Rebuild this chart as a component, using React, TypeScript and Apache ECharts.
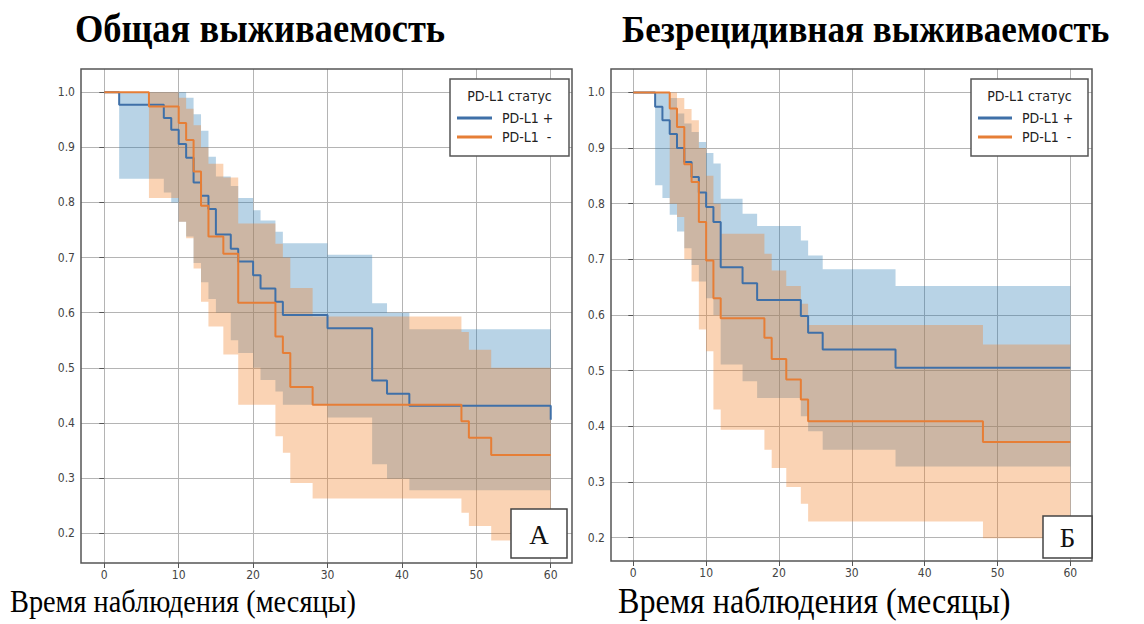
import React, { useEffect, useRef } from "react";
import * as echarts from "echarts";

// ---------- axis ticks ----------
const X_TICKS = [0, 10, 20, 30, 40, 50, 60];
const Y_TICKS = [0.2, 0.3, 0.4, 0.5, 0.6, 0.7, 0.8, 0.9, 1.0];
const END_TIME = 60;

// ---------- texts ----------
const TITLE_OS = "Общая выживаемость";
const TITLE_RFS = "Безрецидивная выживаемость";
const X_LABEL = "Время наблюдения (месяцы)";
const LEGEND_TITLE = "PD-L1 статус";
const NAME_POS = "PD-L1 +";
const NAME_NEG = "PD-L1  -";

// ---------- Overall survival (left) ----------
const osPosTimes = [0, 2, 8, 9, 10, 11, 12, 13, 14, 15, 17, 18, 20, 21, 23, 24, 30, 36, 38, 41, 60];
const osPosSurv = [1.0, 0.977, 0.953, 0.932, 0.906, 0.881, 0.836, 0.812, 0.788, 0.742, 0.716, 0.693, 0.668, 0.644, 0.62, 0.596, 0.572, 0.477, 0.453, 0.431, 0.406];
const osPosBandX = [2, 8, 9, 10, 11, 12, 13, 14, 15, 17, 18, 20, 21, 23, 24, 30, 36, 38, 41];
const osPosBandUp = [1.0, 1.0, 1.0, 1.0, 0.99, 0.96, 0.93, 0.883, 0.847, 0.83, 0.808, 0.786, 0.767, 0.747, 0.726, 0.705, 0.617, 0.6, 0.57];
const osPosBandLo = [0.843, 0.818, 0.8, 0.765, 0.738, 0.69, 0.655, 0.625, 0.6, 0.55, 0.527, 0.5, 0.478, 0.457, 0.433, 0.41, 0.325, 0.299, 0.278];

const osNegTimes = [0, 6, 10, 11, 12, 13, 14, 16, 18, 23, 24, 25, 28, 48, 49, 52];
const osNegSurv = [1.0, 0.974, 0.944, 0.913, 0.856, 0.794, 0.738, 0.707, 0.618, 0.557, 0.527, 0.465, 0.433, 0.403, 0.373, 0.342];
const osNegBandX = [6, 10, 11, 12, 13, 14, 16, 18, 23, 24, 25, 28, 48, 49, 52];
const osNegBandUp = [1.0, 0.99, 0.97, 0.94, 0.9, 0.87, 0.845, 0.762, 0.725, 0.7, 0.645, 0.593, 0.565, 0.533, 0.5];
const osNegBandLo = [0.808, 0.765, 0.735, 0.68, 0.62, 0.575, 0.524, 0.433, 0.376, 0.346, 0.291, 0.263, 0.237, 0.213, 0.187];

// ---------- Recurrence-free survival (right) ----------
const rfsPosTimes = [0, 3, 4, 5, 6, 7, 8, 9, 10, 11, 12, 15, 17, 23, 24, 26, 36];
const rfsPosSurv = [1.0, 0.974, 0.95, 0.925, 0.9, 0.875, 0.848, 0.82, 0.794, 0.767, 0.686, 0.657, 0.627, 0.598, 0.568, 0.538, 0.505];
const rfsPosBandX = [3, 4, 5, 6, 7, 8, 9, 10, 11, 12, 15, 17, 23, 24, 26, 36];
const rfsPosBandUp = [1.0, 1.0, 0.99, 0.962, 0.944, 0.929, 0.911, 0.891, 0.872, 0.809, 0.782, 0.76, 0.734, 0.707, 0.682, 0.652];
const rfsPosBandLo = [0.833, 0.81, 0.78, 0.75, 0.72, 0.69, 0.66, 0.63, 0.6, 0.511, 0.481, 0.451, 0.418, 0.391, 0.358, 0.328];

const rfsNegTimes = [0, 5, 6, 7, 8, 9, 10, 11, 12, 18, 19, 21, 23, 24, 48];
const rfsNegSurv = [1.0, 0.971, 0.938, 0.871, 0.839, 0.767, 0.698, 0.63, 0.594, 0.559, 0.521, 0.484, 0.448, 0.409, 0.372];
const rfsNegBandX = [5, 6, 7, 8, 9, 10, 11, 12, 18, 19, 21, 23, 24, 48];
const rfsNegBandUp = [1.0, 0.99, 0.97, 0.95, 0.9, 0.85, 0.8, 0.746, 0.71, 0.68, 0.652, 0.62, 0.582, 0.547];
const rfsNegBandLo = [0.8, 0.776, 0.7, 0.66, 0.574, 0.535, 0.43, 0.394, 0.358, 0.325, 0.291, 0.261, 0.229, 0.199];

// ---------- styles ----------
const BLUE = "#3f70a8";
const ORANGE = "#e67e36";
const BLUE_FILL = "rgba(40,120,180,0.33)";
const ORANGE_FILL = "rgba(240,128,40,0.35)";
const FRAME = "#555555";
const TICK_FONT = "'Liberation Sans Narrow', 'DejaVu Sans Condensed', 'Roboto Condensed', sans-serif";
const SERIF = "'Liberation Serif', 'Times New Roman', serif";

function stepLine(times: number[], surv: number[], end: number) {
  const pts: number[][] = [[times[0], surv[0]]];
  for (let i = 1; i < times.length; i++) {
    pts.push([times[i], surv[i - 1]]);
    pts.push([times[i], surv[i]]);
  }
  if (times[times.length - 1] < end) pts.push([end, surv[surv.length - 1]]);
  return pts;
}

function bandSeries(idx: number, xs: number[], lo: number[], up: number[], fill: string) {
  return {
    type: "custom",
    xAxisIndex: idx,
    yAxisIndex: idx,
    silent: true,
    z: 1,
    data: [[xs[0], lo[0], up[0]]],
    encode: { x: 0, y: [1, 2] },
    renderItem: (params: any, api: any) => {
      if (params.dataIndex !== 0) return null;
      const pts: number[][] = [];
      for (let i = 0; i < xs.length; i++) {
        const x1 = i < xs.length - 1 ? xs[i + 1] : END_TIME;
        pts.push(api.coord([xs[i], up[i]]), api.coord([x1, up[i]]));
      }
      for (let i = xs.length - 1; i >= 0; i--) {
        const x1 = i < xs.length - 1 ? xs[i + 1] : END_TIME;
        pts.push(api.coord([x1, lo[i]]), api.coord([xs[i], lo[i]]));
      }
      return { type: "polygon", shape: { points: pts }, style: { fill, stroke: null } };
    },
  };
}

function lineSeries(idx: number, name: string, times: number[], surv: number[], color: string) {
  return {
    type: "line",
    name,
    xAxisIndex: idx,
    yAxisIndex: idx,
    data: stepLine(times, surv, END_TIME),
    showSymbol: false,
    symbol: "none",
    lineStyle: { color, width: 2 },
    z: 5,
  };
}

function xAxis(idx: number, min: number, max: number) {
  return {
    type: "value",
    gridIndex: idx,
    min,
    max,
    axisLine: { show: false },
    axisTick: { show: true, customValues: X_TICKS, length: 5, lineStyle: { color: FRAME, width: 1 } },
    axisLabel: {
      customValues: X_TICKS,
      margin: 6,
      fontSize: 12,
      color: "#444",
      fontFamily: TICK_FONT,
    },
    splitLine: { show: true, lineStyle: { color: "#b4b4b4", width: 1 } },
  };
}

function yAxis(idx: number, min: number, max: number) {
  return {
    type: "value",
    gridIndex: idx,
    min,
    max,
    axisLine: { show: false },
    axisTick: { show: true, customValues: Y_TICKS, length: 5, lineStyle: { color: FRAME, width: 1 } },
    axisLabel: {
      customValues: Y_TICKS,
      margin: 6,
      fontSize: 12,
      color: "#444",
      fontFamily: TICK_FONT,
      formatter: (v: number) => v.toFixed(1),
    },
    splitLine: { show: true, lineStyle: { color: "#b4b4b4", width: 1 } },
  };
}

function legendGraphics(x: number, y: number, w: number, h: number, lineX0: number, lineX1: number, labelX: number) {
  const cx = x + w / 2;
  return [
    { type: "rect", shape: { x, y, width: w, height: h }, style: { fill: "#fff", stroke: FRAME, lineWidth: 1.5 }, z: 20 },
    { type: "text", x: cx, y: y + 17, style: { text: LEGEND_TITLE, fontSize: 14, fontFamily: TICK_FONT, fill: "#222", align: "center", verticalAlign: "middle" }, z: 21 },
    { type: "line", shape: { x1: lineX0, y1: y + 39, x2: lineX1, y2: y + 39 }, style: { stroke: BLUE, lineWidth: 3 }, z: 21 },
    { type: "line", shape: { x1: lineX0, y1: y + 58, x2: lineX1, y2: y + 58 }, style: { stroke: ORANGE, lineWidth: 3 }, z: 21 },
    { type: "text", x: labelX, y: y + 39, style: { text: NAME_POS, fontSize: 14, fontFamily: TICK_FONT, fill: "#222", align: "left", verticalAlign: "middle" }, z: 21 },
    { type: "text", x: labelX, y: y + 58, style: { text: NAME_NEG, fontSize: 14, fontFamily: TICK_FONT, fill: "#222", align: "left", verticalAlign: "middle" }, z: 21 },
  ];
}

function letterBox(x: number, y: number, w: number, h: number, letter: string) {
  return [
    { type: "rect", shape: { x, y, width: w, height: h }, style: { fill: "#fff", stroke: "#444", lineWidth: 1.5 }, z: 20 },
    { type: "text", x: x + w / 2, y: y + h / 2 + 1, style: { text: letter, fontSize: 27, fontFamily: SERIF, fill: "#111", align: "center", verticalAlign: "middle" }, z: 21 },
  ];
}

export default function App() {
  const ref = useRef<HTMLDivElement>(null);
  useEffect(() => {
    if (!ref.current) return;
    const chart = echarts.init(ref.current, undefined, { renderer: "svg" });
    chart.setOption({
      animation: false,
      backgroundColor: "#ffffff",
      grid: [
        { left: 81, top: 69, width: 491, height: 494, show: true, borderColor: FRAME, borderWidth: 1.5, backgroundColor: "transparent", z: 10 },
        { left: 611, top: 69, width: 481, height: 492, show: true, borderColor: FRAME, borderWidth: 1.5, backgroundColor: "transparent", z: 10 },
      ],
      xAxis: [xAxis(0, -3.13, 62.86), xAxis(1, -3.06, 62.97)],
      yAxis: [yAxis(0, 0.146, 1.042), yAxis(1, 0.158, 1.042)],
      series: [
        bandSeries(0, osPosBandX, osPosBandLo, osPosBandUp, BLUE_FILL),
        bandSeries(0, osNegBandX, osNegBandLo, osNegBandUp, ORANGE_FILL),
        lineSeries(0, NAME_POS, osPosTimes, osPosSurv, BLUE),
        lineSeries(0, NAME_NEG, osNegTimes, osNegSurv, ORANGE),
        bandSeries(1, rfsPosBandX, rfsPosBandLo, rfsPosBandUp, BLUE_FILL),
        bandSeries(1, rfsNegBandX, rfsNegBandLo, rfsNegBandUp, ORANGE_FILL),
        lineSeries(1, NAME_POS, rfsPosTimes, rfsPosSurv, BLUE),
        lineSeries(1, NAME_NEG, rfsNegTimes, rfsNegSurv, ORANGE),
      ],
      graphic: [
        { type: "text", x: 75, y: 29, scaleX: 0.935, style: { text: TITLE_OS, fontSize: 39, fontWeight: "bold", fontFamily: SERIF, fill: "#000", align: "left", verticalAlign: "middle" } },
        { type: "text", x: 622, y: 29, scaleX: 0.9, style: { text: TITLE_RFS, fontSize: 39, fontWeight: "bold", fontFamily: SERIF, fill: "#000", align: "left", verticalAlign: "middle" } },
        { type: "text", x: 10, y: 601, scaleX: 0.885, style: { text: X_LABEL, fontSize: 32, fontFamily: SERIF, fill: "#000", align: "left", verticalAlign: "middle" } },
        { type: "text", x: 618, y: 601, scaleX: 0.918, style: { text: X_LABEL, fontSize: 35, fontFamily: SERIF, fill: "#000", align: "left", verticalAlign: "middle" } },
        ...legendGraphics(450, 79, 119, 77, 457, 492, 502),
        ...legendGraphics(971, 79, 117, 77, 978, 1012, 1022),
        ...letterBox(511, 509, 56, 49, "А"),
        ...letterBox(1043, 516, 49, 42, "Б"),
      ],
    });
    return () => chart.dispose();
  }, []);
  return <div ref={ref} style={{ position: "fixed", left: 0, top: 0, width: 1144, height: 624 }} />;
}
